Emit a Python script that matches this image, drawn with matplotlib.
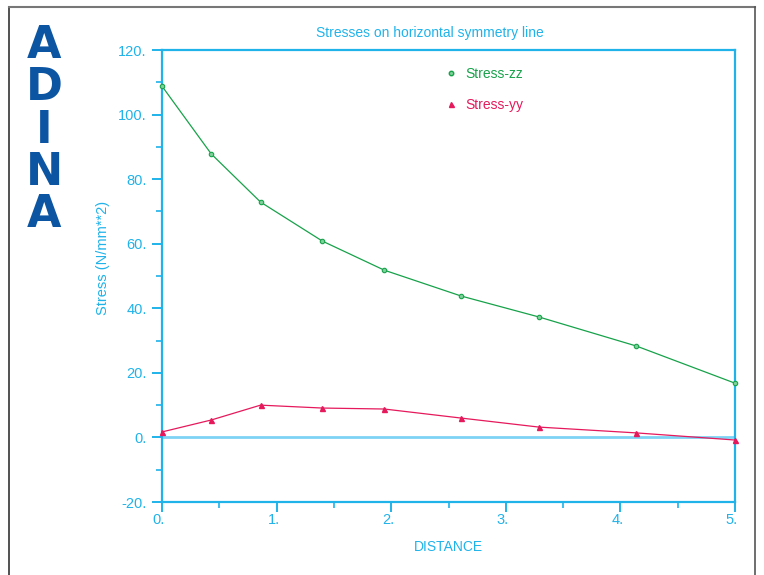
import matplotlib; matplotlib.use("Agg")
import matplotlib.pyplot as plt
import matplotlib.transforms as mtransforms
from matplotlib.lines import Line2D
from matplotlib.ticker import MultipleLocator, FuncFormatter

CY = "#1fb3ea"; GR = "#17a24a"; RD = "#e5195c"; LOGO = "#0b55a3"
plt.rcParams.update({"font.family": ["Liberation Sans", "DejaVu Sans"]})

distance = [0.0, 0.43, 0.86, 1.40, 1.94, 2.61, 3.29, 4.14, 5.0]
stress_zz = [108.8, 87.8, 72.9, 60.8, 51.8, 43.8, 37.3, 28.3, 16.8]
stress_yy = [1.7, 5.4, 10.0, 9.1, 8.8, 6.0, 3.2, 1.4, -0.8]
series_names = ["Stress-zz", "Stress-yy"]

fig = plt.figure(figsize=(7.64, 5.75), dpi=100)
ax = fig.add_axes([162/764, 1-502/575, 573/764, 452/575])
ax.set_xlim(0, 5); ax.set_ylim(-20, 120)

ax.axhline(0, color="#7dd3f4", lw=2, zorder=1)
ax.plot(distance, stress_zz, color=GR, lw=0.9, marker="o", ms=3.2, mfc="#7fd19a", mec=GR, mew=0.8, zorder=3, clip_on=False)
ax.plot(distance, stress_yy, color=RD, lw=0.9, marker="^", ms=3.6, mfc=RD, mec=RD, zorder=3, clip_on=False)

for s in ax.spines.values():
    s.set_color(CY); s.set_linewidth(1.6)
ax.xaxis.set_major_locator(MultipleLocator(1)); ax.xaxis.set_minor_locator(MultipleLocator(0.5))
ax.yaxis.set_major_locator(MultipleLocator(20)); ax.yaxis.set_minor_locator(MultipleLocator(10))
fmt = FuncFormatter(lambda v, p: f"{v:.0f}.")
ax.xaxis.set_major_formatter(fmt); ax.yaxis.set_major_formatter(fmt)
ax.tick_params(which="major", direction="out", length=7, width=1.4, color=CY, labelcolor=CY, labelsize=10.5)
ax.tick_params(which="minor", direction="out", length=4, width=1.2, color=CY)
ax.tick_params(axis="x", pad=1)
ax.tick_params(axis="y", pad=4)
shift = mtransforms.ScaledTranslation(3/100, 0, fig.dpi_scale_trans)
for t in ax.get_xticklabels():
    t.set_ha("right")
    t.set_transform(t.get_transform() + shift)

fig.text(430/764, 1-33/575, "Stresses on horizontal symmetry line", color=CY, fontsize=10, ha="center", va="center")
fig.text(448/764, 1-547/575, "DISTANCE", color=CY, fontsize=10, ha="center", va="center")
fig.text(103/764, 1-258/575, "Stress (N/mm**2)", color=CY, fontsize=10.5, ha="center", va="center", rotation=90)

handles = [Line2D([], [], ls="none", marker="o", ms=3.2, color=GR, mfc="#7fd19a"),
           Line2D([], [], ls="none", marker="^", ms=3.6, color=RD)]
leg = fig.legend(handles, series_names, loc="upper left", bbox_to_anchor=(432/764, 1-54/575), frameon=False,
                 handlelength=1, handletextpad=0.5, labelspacing=1.25, fontsize=10)
for t, c in zip(leg.get_texts(), [GR, RD]):
    t.set_color(c)

for ch, yb in zip("ADINA", [58, 100, 143, 185, 227]):
    fig.text(44/764, 1-yb/575, ch, color=LOGO, fontsize=32, fontweight="bold", ha="center", va="baseline",
             family="DejaVu Sans")

fig.add_artist(Line2D([9/764, 9/764], [0, 1-7/575], color="#333333", lw=1.2, transform=fig.transFigure))
fig.add_artist(Line2D([9/764, 755/764], [1-7/575, 1-7/575], color="#777777", lw=1.5, transform=fig.transFigure))
fig.add_artist(Line2D([755/764, 755/764], [0, 1-7/575], color="#555555", lw=1.2, transform=fig.transFigure))

fig.savefig("out.png", dpi=100)
